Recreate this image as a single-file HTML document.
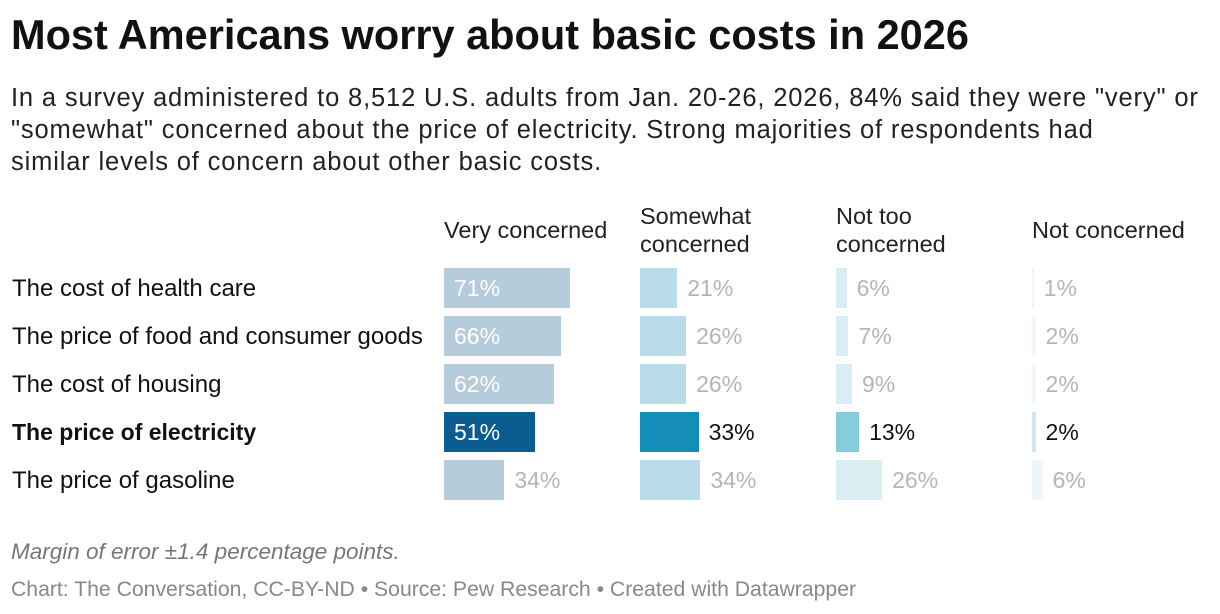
<!DOCTYPE html>
<html><head><meta charset="utf-8"><style>
body{margin:0;width:1220px;height:614px;background:#fff;font-family:"Liberation Sans",sans-serif;position:relative;overflow:hidden}
.a{position:absolute;white-space:nowrap}
</style></head><body>
<div class="a" style="left:11px;top:11px;font-size:41.5px;font-weight:bold;color:#111">Most Americans worry about basic costs in 2026</div>
<div class="a" style="left:11px;top:82px;font-size:25.5px;letter-spacing:0.85px;line-height:32px;color:#222;white-space:normal;width:1205px">In a survey administered to 8,512 U.S. adults from Jan. 20-26, 2026, 84% said they were "very" or<br>"somewhat" concerned about the price of electricity. Strong majorities of respondents had<br>similar levels of concern about other basic costs.</div>
<div id="chart"></div>
<div class="a" style="left:11px;top:539px;font-size:22.5px;font-style:italic;color:#777">Margin of error ±1.4 percentage points.</div>
<div class="a" style="left:11px;top:578px;font-size:21.2px;color:#888">Chart: The Conversation, CC-BY-ND • Source: Pew Research • Created with Datawrapper</div>
<script>
const categories=["The cost of health care","The price of food and consumer goods","The cost of housing","The price of electricity","The price of gasoline"];
const headers=["Very concerned","Somewhat\nconcerned","Not too\nconcerned","Not concerned"];
const veryConcerned=[71,66,62,51,34];
const somewhatConcerned=[21,26,26,33,34];
const notTooConcerned=[6,7,9,13,26];
const notConcerned=[1,2,2,2,6];
const highlightRow=3;
const series=[veryConcerned,somewhatConcerned,notTooConcerned,notConcerned];
const muted=["#b5cddb","#b8dcea","#d8eef3","#eef6f9"];
const strong=["#0a5c91","#148eb9","#87ccdc","#cde8f0"];
const colX=[444,640,836,1032], scale=1.775, top0=268, pitch=48, bh=40;
const c=document.getElementById('chart');
function add(html,style){const d=document.createElement('div');d.className='a';d.style.cssText=style;d.textContent=html;c.appendChild(d);return d;}
headers.forEach((h,j)=>{
  const two=h.includes('\n');
  const d=add('', `left:${colX[j]}px;top:${two?202:216}px;font-size:23.5px;line-height:28px;color:#222;white-space:pre`);
  d.textContent=h;
  
  
});
categories.forEach((cat,i)=>{
  const y=top0+i*pitch, hl=i===highlightRow;
  const l=add(cat,`left:12px;top:${y+7}px;font-size:24px;color:#111;font-weight:${hl?'bold':'normal'};${hl?'font-size:23px;':''}`);
  
  
  series.forEach((s,j)=>{
    const v=s[i], w=v*scale;
    const b=add('',`left:${colX[j]}px;top:${y}px;width:${w}px;height:${bh}px;background:${hl?strong[j]:muted[j]}`);
    
    
    const inside=j===0&&v>=45;
    const t=add(v+'%',`left:${inside?colX[j]+10:colX[j]+w+10}px;top:${y+7}px;font-size:23px;color:${inside?'#fff':(hl?'#111':'#b5b5b5')}`);
    
    
  });
});
</script>
</body></html>
